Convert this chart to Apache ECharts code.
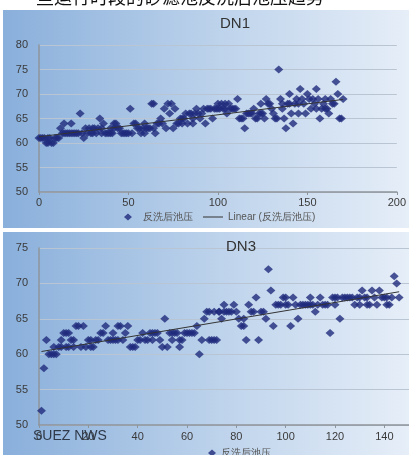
<!DOCTYPE html>
<html><head><meta charset="utf-8">
<script src="https://cdn.jsdelivr.net/npm/echarts@6/dist/echarts.min.js"></script>
<style>html,body{margin:0;padding:0;background:#fff}#c{width:409px;height:455px}</style>
</head><body><div id="c"></div>
<script>
// DN1: value at x = index
const dn1Y = [61,61,61,61,60,60,61,60,60,61,61,61,63,62,64,62,62,62,64,62,
  62,62,62,66,62,61,63,62,63,62,63,63,62,63,65,63,64,62,62,62,
  63,62,63,64,63,63,62,62,62,62,62,67,62,64,64,63,63,62,63,64,
  63,63,63,68,68,62,64,64,65,64,67,63,68,66,68,63,67,64,64,65,
  65,65,66,64,66,66,65,66,67,66,65,66,67,64,67,67,67,65,67,67,
  68,67,68,67,68,66,68,67,67,67,67,69,65,65,65,63,66,66,66,66,
  67,65,65,66,68,66,65,69,68,68,67,66,65,65,75,69,67,65,63,68,
  70,66,64,68,69,68,71,69,68,66,70,69,67,69,68,71,69,65,67,68,
  69,67,66,69,68,68,72.5,70,65,65,69];
const dn1ExtraX = [5,14,18,30,35,40,42,59,64,80,86,100,104,124,136,140,145,155,160];
const dn1ExtraY = [61,62,62,62,62,62,64,62,63,64,64,67,67,66,68,68,66,67,67];
// DN3: value at x = index + 1
const dn3Y = [52,58,62,60,60,61,60,61,62,63,61,63,62,62,64,64,61,64,61,62,
  62,61,62,62,63,63,64,62,62,62,62,62,64,62,63,64,61,61,61,62,
  62,63,62,62,63,62,63,63,62,61,65,61,63,62,63,63,61,62,63,63,
  63,63,63,64,60,62,65,66,66,62,66,62,66,65,67,66,66,66,67,66,
  65,64,65,62,67,66,66,68,62,66,66,65,72,69,64,67,67,67,68,68,
  67,64,68,67,65,67,67,67,67,67,67,66,67,68,67,67,67,63,68,68,
  68,65,68,68,68,68,68,67,68,68,69,68,67,67,69,68,67,69,68,68,
  67,67,68,71,70,68];
const dn3ExtraX = [6,9,11,12,14,21,30,32,46,54,57,69,71,73,75,83,100,110,120,130,133,141];
const dn3ExtraY = [60,61,63,61,61,61,63,64,63,63,62,62,62,66,66,64,67,68,67,67,68,68];
const seriesName = '反洗后池压';
const trendName = 'Linear (反洗后池压)';
const dn1Ticks = {min:0, max:200, step:50};
const dn3Ticks = {min:0, max:150, step:20};

function pairs(ys, off, ex, ey){
  const p = ys.map((v,i)=>[i+off, v]);
  ex.forEach((x,i)=>p.push([x, ey[i]]));
  return p;
}
function fit(p){
  let n=p.length,sx=0,sy=0,sxx=0,sxy=0,mn=Infinity,mx=-Infinity;
  p.forEach(([x,y])=>{sx+=x;sy+=y;sxx+=x*x;sxy+=x*y;mn=Math.min(mn,x);mx=Math.max(mx,x);});
  const m=(n*sxy-sx*sy)/(n*sxx-sx*sx), b=(sy-m*sx)/n;
  return [[mn,m*mn+b],[mx,m*mx+b]];
}
const p1 = pairs(dn1Y,0,dn1ExtraX,dn1ExtraY);
const p3 = pairs(dn3Y,1,dn3ExtraX,dn3ExtraY);

const chart = echarts.init(document.getElementById('c'));
const font = '"Liberation Sans", Arial, sans-serif';
const grad = new echarts.graphic.LinearGradient(0,0,1,0,[{offset:0,color:'#89afdb'},{offset:0.55,color:'#bfd4ec'},{offset:1,color:'#e6eef8'}]);
const lbl = {color:'#3a3a3a', fontSize:11, fontFamily:font};
const gridLine = {show:true, lineStyle:{color:'#b9c5d2', width:1}};
const axLine = {show:true, lineStyle:{color:'#8e949b', width:1.5}};
const markerStyle = {color:'#1f2a7c'};
const lineIcon = 'path://M0,3H24V4.2H0Z M0,0H0.01V0.01H0Z M0,7H0.01V7.01H0Z';
const diaIcon = 'path://M10,0L14,3.5L10,7L6,3.5Z M0,0H0.01V0.01H0Z M20,7H20.01V7.01H20Z';

chart.setOption({
  animation:false,
  textStyle:{fontFamily:font},
  graphic:[
    {type:'text', left:18, top:-12, style:{text:'一些运行时段的砂滤池反洗后池压趋势', fontSize:18, fill:'#111', fontFamily:'"Noto Sans CJK SC"'}},
    {type:'rect', shape:{x:3,y:10,width:406,height:218}, style:{fill:grad}, z:-10},
    {type:'rect', shape:{x:3,y:232,width:406,height:223}, style:{fill:grad}, z:-10},
    {type:'text', left:33, top:429, z:100, style:{text:'SUEZ NWS', fontSize:14, fill:'#2f3a4a', fontFamily:font}}
  ],
  title:[
    {text:'DN1', left:230, top:11, textAlign:'center', textStyle:{fontSize:15, fontWeight:'normal', color:'#333', fontFamily:font}},
    {text:'DN3', left:236, top:234, textAlign:'center', textStyle:{fontSize:15, fontWeight:'normal', color:'#333', fontFamily:font}}
  ],
  legend:[
    {left:113, top:207, itemGap:10, itemWidth:20, itemHeight:7, textStyle:{fontSize:10, color:'#555'},
     data:[{name:seriesName, icon:diaIcon, itemStyle:{color:'#1f2a7c'}},{name:trendName, icon:lineIcon, itemStyle:{color:'#333'}}]},
    {left:203, top:443, itemGap:4, itemWidth:8, itemHeight:7, textStyle:{fontSize:10, color:'#555'},
     data:[{name:seriesName, icon:'diamond', itemStyle:{color:'#1f2a7c'}}]}
  ],
  grid:[
    {left:39, top:45, width:360, height:147},
    {left:39, top:248, width:372.9, height:177}
  ],
  xAxis:[
    {gridIndex:0, type:'value', min:dn1Ticks.min, max:dn1Ticks.max, interval:dn1Ticks.step,
     axisLine:axLine, axisTick:{show:true, length:3, lineStyle:{color:'#8e949b'}}, splitLine:{show:false}, axisLabel:Object.assign({margin:5},lbl)},
    {gridIndex:1, type:'value', min:dn3Ticks.min, max:dn3Ticks.max, interval:dn3Ticks.step,
     axisLine:axLine, axisTick:{show:true, length:3, lineStyle:{color:'#8e949b'}}, splitLine:{show:false}, axisLabel:Object.assign({margin:6, showMaxLabel:false},lbl)}
  ],
  yAxis:[
    {gridIndex:0, type:'value', min:50, max:80, interval:5, axisLine:axLine, axisTick:{show:false}, splitLine:gridLine,
     axisLabel:Object.assign({margin:11},lbl)},
    {gridIndex:1, type:'value', min:50, max:75, interval:5, axisLine:axLine, axisTick:{show:false}, splitLine:gridLine,
     axisLabel:Object.assign({margin:11},lbl)}
  ],
  series:[
    {name:seriesName, type:'scatter', xAxisIndex:0, yAxisIndex:0, symbol:'diamond', symbolSize:[9,8], itemStyle:markerStyle, data:p1},
    {name:trendName, type:'line', xAxisIndex:0, yAxisIndex:0, symbol:'none', lineStyle:{color:'#333', width:1}, itemStyle:{color:'#333'}, data:fit(p1), z:5},
    {name:seriesName, type:'scatter', xAxisIndex:1, yAxisIndex:1, symbol:'diamond', symbolSize:[9,8], itemStyle:markerStyle, data:p3},
    {name:'trend3', type:'line', xAxisIndex:1, yAxisIndex:1, symbol:'none', lineStyle:{color:'#333', width:1}, data:fit(p3), z:5}
  ]
});
</script>
</body></html>
